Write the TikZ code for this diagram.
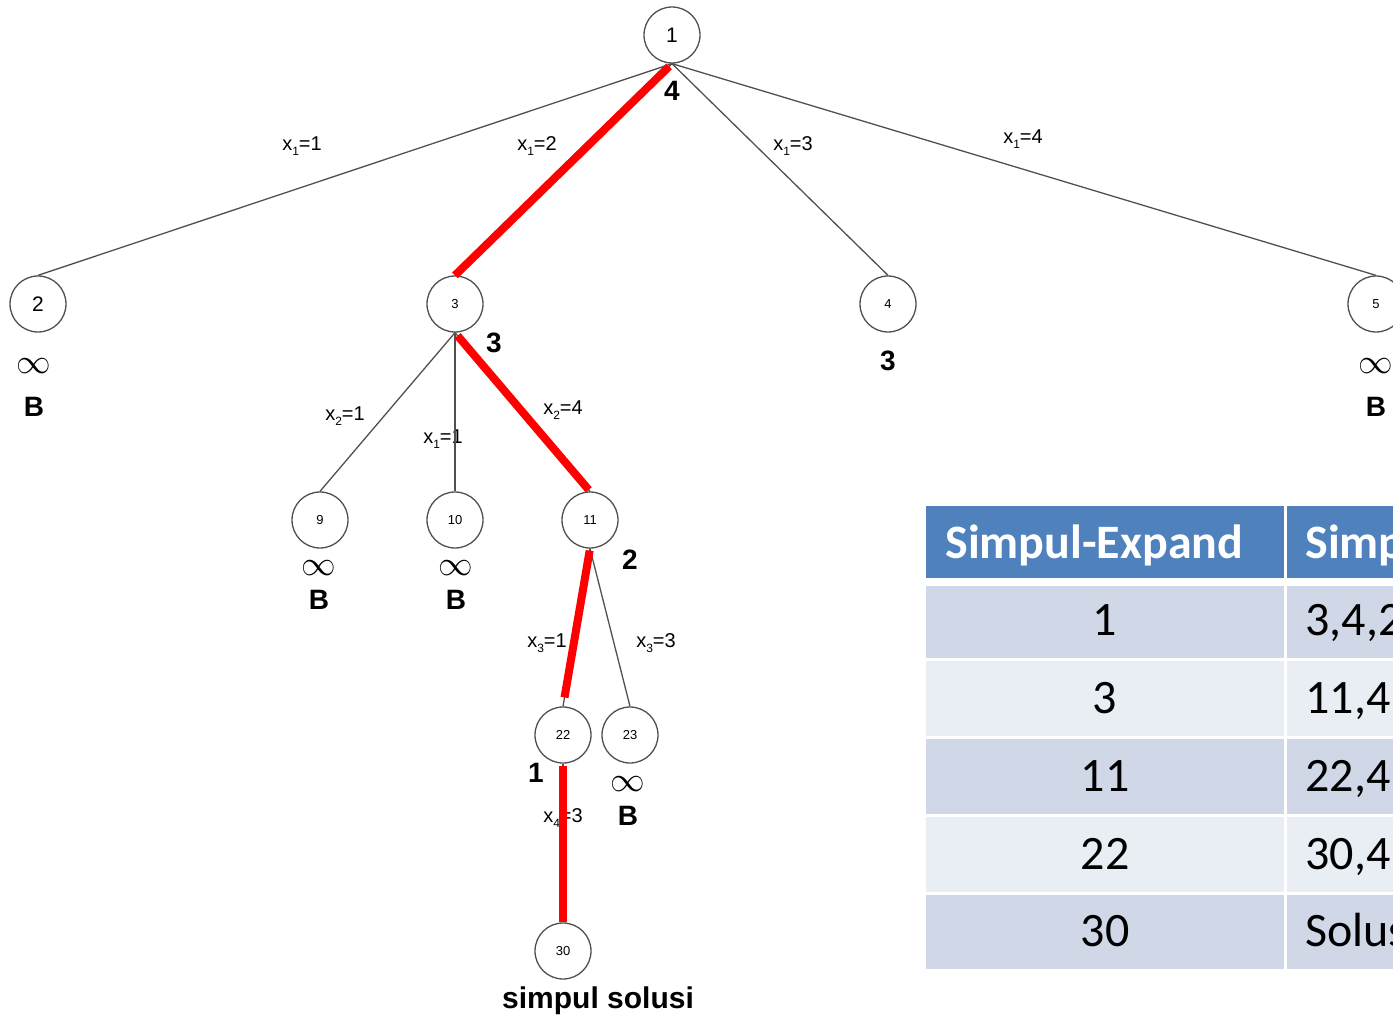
\documentclass[tikz,border=0pt]{standalone}
\usepackage{fontspec}
\setmainfont{Liberation Sans}
\newfontfamily\tablefont{Carlito}
\usepackage{tikz}

\definecolor{hdrblue}{HTML}{4F81BD}
\definecolor{rowdark}{HTML}{D0D8E8}
\definecolor{rowlight}{HTML}{E9EDF4}
\definecolor{edgegray}{HTML}{505050}

\newcommand{\sub}[1]{\raisebox{-0.45ex}{\fontsize{6}{6}\selectfont #1}}

\begin{document}
\begin{tikzpicture}[x=0.5pt, y=-0.5pt,
    vertex/.style={circle, draw=edgegray, line width=0.65pt, minimum size=28pt, inner sep=0pt, font=\fontsize{6.5}{7}\selectfont},
    bigvertex/.style={vertex, font=\fontsize{10.5}{11}\selectfont},
    edge/.style={draw=edgegray, line width=0.65pt},
    redpath/.style={draw=red, line width=4pt},
    xlabel/.style={font=\fontsize{10}{11}\selectfont},
    cost/.style={font=\bfseries\fontsize{14}{15}\selectfont},
    infty/.style={font=\fontsize{17}{17}\selectfont},
    cell/.style={font=\tablefont\fontsize{24}{26}\selectfont, anchor=base, inner sep=0pt}]
    \useasboundingbox (0,0) rectangle (1393,1016);

    % state space tree
    \node[bigvertex] (1) at (672,35) {1};
    \node[bigvertex] (2) at (38,304) {2};
    \node[vertex] (3) at (455,304) {3};
    \node[vertex] (4) at (888,304) {4};
    \node[vertex] (5) at (1376,304) {5};
    \node[vertex] (9) at (320,520) {9};
    \node[vertex] (10) at (455,520) {10};
    \node[vertex] (11) at (590,520) {11};
    \node[vertex] (22) at (563,735) {22};
    \node[vertex] (23) at (630,735) {23};
    \node[vertex] (30) at (563,951) {30};

    % branch labels
    \node[xlabel] (e12) at (302,146) {x\sub{1}=1};
    \node[xlabel] (e13) at (537,146) {x\sub{1}=2};
    \node[xlabel] (e14) at (793,146) {x\sub{1}=3};
    \node[xlabel] (e15) at (1023,139) {x\sub{1}=4};
    \node[xlabel] (e39) at (345,416) {x\sub{2}=1};
    \node[xlabel] (e310) at (443,439) {x\sub{1}=1};
    \node[xlabel] (e311) at (563,410) {x\sub{2}=4};
    \node[xlabel] (e1122) at (547,643) {x\sub{3}=1};
    \node[xlabel] (e1123) at (656,643) {x\sub{3}=3};
    \node[xlabel] (e2230) at (563,818) {x\sub{4}=3};

    % costs and bounded nodes
    \node[cost] (c1) at (672,91) {4};
    \node[cost] (c3) at (494,343) {3};
    \node[cost] (c4) at (888,361) {3};
    \node[cost] (c11) at (630,560) {2};
    \node[cost] (c22) at (536,773) {1};
    \foreach \n/\x/\y/\d in {2/34/366/41, 5/1376/366/41, 9/319/568/32, 10/456/568/32, 23/628/784/32} {
        \node[infty] (inf\n) at (\x,\y) {$\infty$};
        \node[cost] (b\n) at (\x,\y+\d) {B};
    }
    \node[cost, font=\bfseries\fontsize{15}{16}\selectfont] (sol) at (598,1001) {simpul solusi};

    \foreach \c in {2,3,4,5}
        \draw[edge] (1.south) -- (\c.north);
    \foreach \c in {9,10,11}
        \draw[edge] (3.south) -- (\c.north);
    \foreach \c in {22,23}
        \draw[edge] (11.south) -- (\c.north);
    \draw[edge] (22.south) -- (30.north);

    % path to the solution
    \draw[redpath, shorten <=2pt] (1.south) -- (3.north);
    \draw[redpath, shorten <=2pt, shorten >=1pt] (3.south) -- (11.north);
    \draw[redpath, shorten <=1pt, shorten >=4.5pt] (11.south) -- (22.north);
    \draw[redpath, shorten <=1pt] (22.south) -- (30.north);

    % table of live nodes
    \begin{scope}
        \clip (0,0) rectangle (1393,1016);
        \fill[hdrblue] (926,506) rectangle (1284,578);
        \fill[hdrblue] (1287,506) rectangle (1800,578);
        \node[cell, anchor=base west, text=white, font=\tablefont\bfseries\fontsize{24}{26}\selectfont] (h1) at (945,558) {Simpul-Expand};
        \node[cell, anchor=base west, text=white, font=\tablefont\bfseries\fontsize{24}{26}\selectfont] (h2) at (1305,558) {Simpul-Hidup};
        \foreach \top/\bot/\shade/\first/\second [count=\i] in {
            586/658/rowdark/1/{3,4,2,5},
            661/736/rowlight/3/{11,4,2,5,9,10},
            739/814/rowdark/11/{22,4,2,5,9,10,23},
            817/892/rowlight/22/{30,4,2,5,9,10,23},
            895/969/rowdark/30/{Solusi ketemu}} {
            \fill[\shade] (926,\top) rectangle (1284,\bot);
            \fill[\shade] (1287,\top) rectangle (1800,\bot);
            \node[cell] (a\i) at (1105,\bot-23) {\first};
            \node[cell, anchor=base west] (s\i) at (1305,\bot-23) {\second};
        }
    \end{scope}
\end{tikzpicture}
\end{document}
